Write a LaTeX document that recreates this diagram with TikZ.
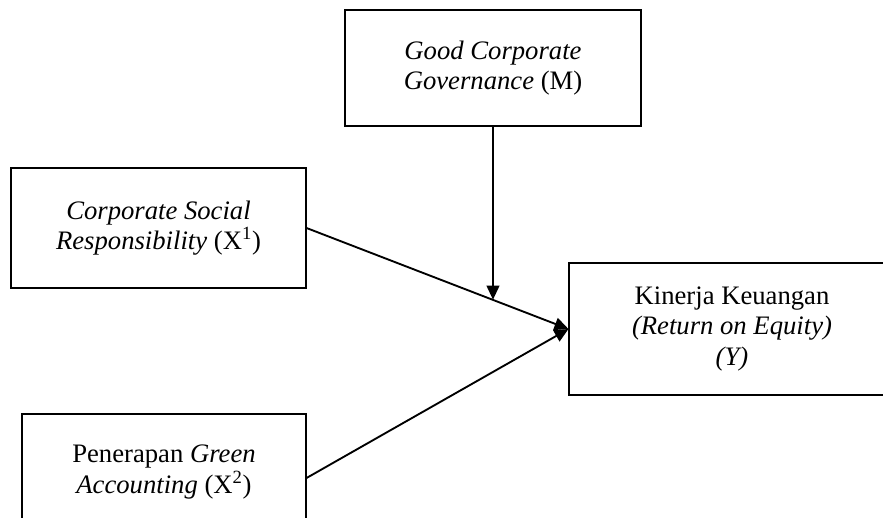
\documentclass[tikz,border=0pt]{standalone}
\usepackage{fontspec}
\setmainfont{Liberation Serif}
\usetikzlibrary{arrows.meta, calc}

\begin{document}
\begin{tikzpicture}[x=0.75pt, y=-0.75pt,
        box/.style={shape=rectangle, draw=black, line width=0.8pt, align=center, inner sep=0pt,
            font=\fontsize{20}{23}\selectfont},
        link/.style={line width=1.4pt, -{Triangle[length=10.5pt, width=9.5pt]}}]
        \useasboundingbox (0,0) rectangle (883,518);
        \clip (0,0) rectangle (883,518);

        \node[box, minimum width=222pt, minimum height=87pt] (gcg) at (493,68) {\textit{Good Corporate}\\\textit{Governance} (M)};
        \node[box, minimum width=221.25pt, minimum height=90pt] (csr) at (158.5,228) {\textit{Corporate Social}\\\textit{Responsibility} (X\textsuperscript{1})};
        \node[box, minimum width=244.5pt, minimum height=99pt] (kin) at (732,329) {Kinerja Keuangan\\\textit{(Return on Equity)}\\\textit{(Y)}};
        \node[box, minimum width=213pt, minimum height=87pt] (grn) at (164,472) {Penerapan \textit{Green}\\\textit{Accounting} (X\textsuperscript{2})};

        \coordinate (hit) at ($(csr.east)!0.71!(kin.west)$);
        \draw[link] (csr.east) -- (kin.west);
        \draw[link] ([yshift=-4.5pt]grn.east) -- (kin.west);
        \draw[link] (gcg.south) -- (gcg.south |- hit);
    \end{tikzpicture}
\end{document}
